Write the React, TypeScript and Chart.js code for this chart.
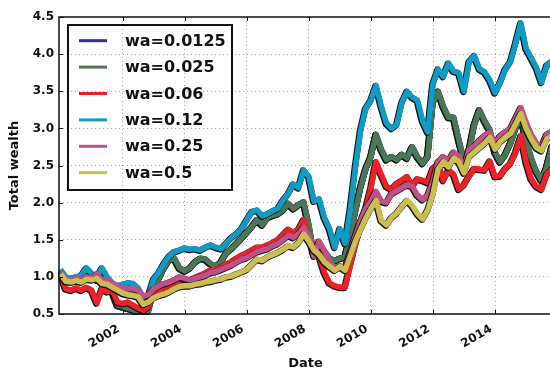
import React, { useEffect, useRef } from "react";
import { Chart, registerables } from "chart.js";

Chart.register(...registerables);

// Sample dates (every two months), "YYYY-MM"
const dates = [
  "2000-01", "2000-03", "2000-05", "2000-07", "2000-09", "2000-11",
  "2001-01", "2001-03", "2001-05", "2001-07", "2001-09", "2001-11",
  "2002-01", "2002-03", "2002-05", "2002-07", "2002-09", "2002-11",
  "2003-01", "2003-03", "2003-05", "2003-07", "2003-09", "2003-11",
  "2004-01", "2004-03", "2004-05", "2004-07", "2004-09", "2004-11",
  "2005-01", "2005-03", "2005-05", "2005-07", "2005-09", "2005-11",
  "2006-01", "2006-03", "2006-05", "2006-07", "2006-09", "2006-11",
  "2007-01", "2007-03", "2007-05", "2007-07", "2007-09", "2007-11",
  "2008-01", "2008-03", "2008-05", "2008-07", "2008-09", "2008-11",
  "2009-01", "2009-03", "2009-05", "2009-07", "2009-09", "2009-11",
  "2010-01", "2010-03", "2010-05", "2010-07", "2010-09", "2010-11",
  "2011-01", "2011-03", "2011-05", "2011-07", "2011-09", "2011-11",
  "2012-01", "2012-03", "2012-05", "2012-07", "2012-09", "2012-11",
  "2013-01", "2013-03", "2013-05", "2013-07", "2013-09", "2013-11",
  "2014-01", "2014-03", "2014-05", "2014-07", "2014-09", "2014-11",
  "2015-01", "2015-03", "2015-05", "2015-07", "2015-09", "2015-11",
  "2016-01",
];

const wa0125 = [
  1.08, 0.97, 0.95, 0.97, 0.98, 1.06,
  1.00, 0.96, 1.06, 0.96, 0.80, 0.62,
  0.60, 0.58, 0.56, 0.52, 0.46, 0.55,
  0.82, 0.98, 1.12, 1.23, 1.25, 1.12,
  1.08, 1.12, 1.20, 1.25, 1.24, 1.18,
  1.14, 1.20, 1.32, 1.38, 1.45, 1.52,
  1.60, 1.68, 1.77, 1.70, 1.80, 1.83,
  1.85, 1.90, 1.99, 1.92, 1.97, 2.01,
  1.70, 1.30, 1.40, 1.35, 1.25, 1.22,
  1.25, 1.27, 1.54, 1.88, 2.20, 2.45,
  2.62, 2.92, 2.72, 2.58, 2.62, 2.58,
  2.65, 2.60, 2.75, 2.62, 2.53, 2.62,
  3.35, 3.50, 3.30, 3.15, 3.15, 2.85,
  2.57, 2.70, 3.05, 3.25, 3.10, 2.98,
  2.68, 2.55, 2.65, 2.80, 3.00, 3.18,
  2.85, 2.60, 2.42, 2.30, 2.48, 2.75,
  2.85,
];

const wa025 = [
  1.08, 0.97, 0.95, 0.97, 0.98, 1.06,
  1.00, 0.96, 1.06, 0.96, 0.80, 0.62,
  0.60, 0.58, 0.56, 0.52, 0.46, 0.55,
  0.82, 0.98, 1.12, 1.23, 1.25, 1.12,
  1.08, 1.12, 1.20, 1.25, 1.24, 1.18,
  1.14, 1.20, 1.32, 1.38, 1.45, 1.52,
  1.60, 1.68, 1.77, 1.70, 1.80, 1.83,
  1.85, 1.90, 1.99, 1.92, 1.97, 2.01,
  1.70, 1.30, 1.40, 1.35, 1.25, 1.22,
  1.25, 1.27, 1.54, 1.88, 2.20, 2.45,
  2.62, 2.92, 2.72, 2.58, 2.62, 2.58,
  2.65, 2.60, 2.75, 2.62, 2.53, 2.62,
  3.35, 3.50, 3.30, 3.15, 3.15, 2.85,
  2.57, 2.70, 3.05, 3.25, 3.10, 2.98,
  2.68, 2.55, 2.65, 2.80, 3.00, 3.18,
  2.85, 2.60, 2.42, 2.30, 2.48, 2.75,
  2.85,
];

const wa06 = [
  1.02, 0.84, 0.82, 0.85, 0.82, 0.86,
  0.82, 0.65, 0.84, 0.80, 0.82, 0.66,
  0.64, 0.66, 0.62, 0.58, 0.55, 0.60,
  0.78, 0.80, 0.82, 0.86, 0.90, 0.96,
  0.97, 0.96, 0.99, 1.02, 1.05, 1.09,
  1.10, 1.13, 1.17, 1.20, 1.25, 1.29,
  1.32, 1.36, 1.40, 1.40, 1.43, 1.46,
  1.50, 1.57, 1.64, 1.60, 1.64, 1.77,
  1.50, 1.44, 1.28, 1.06, 0.92, 0.88,
  0.86, 0.86, 1.15, 1.43, 1.67, 1.92,
  2.20, 2.55, 2.38, 2.22, 2.18, 2.26,
  2.30, 2.35, 2.22, 2.32, 2.30, 2.27,
  2.46, 2.52, 2.30, 2.44, 2.38, 2.18,
  2.24, 2.36, 2.46, 2.45, 2.44, 2.56,
  2.35, 2.36, 2.46, 2.53, 2.68, 2.90,
  2.55, 2.32, 2.22, 2.18, 2.38, 2.45,
  2.50,
];

const wa12 = [
  1.10, 1.00, 0.98, 1.00, 1.02, 1.12,
  1.05, 1.00, 1.12, 1.00, 0.92, 0.88,
  0.90, 0.92, 0.91, 0.85, 0.72, 0.75,
  0.97, 1.06, 1.18, 1.28, 1.34, 1.36,
  1.39, 1.37, 1.38, 1.36, 1.40, 1.43,
  1.40, 1.38, 1.45, 1.53, 1.58, 1.65,
  1.77, 1.88, 1.90, 1.82, 1.85, 1.89,
  1.92, 2.03, 2.12, 2.25, 2.20, 2.44,
  2.35, 2.02, 2.05, 1.80, 1.65, 1.40,
  1.65, 1.45, 1.90, 2.47, 2.97, 3.27,
  3.38, 3.58, 3.30, 3.07, 3.00, 3.05,
  3.35, 3.50, 3.42, 3.38, 3.10, 2.95,
  3.60, 3.80, 3.70, 3.88, 3.77, 3.75,
  3.50, 3.90, 3.98, 3.80, 3.76, 3.65,
  3.48, 3.62, 3.80, 3.90, 4.15, 4.42,
  4.08, 3.95, 3.82, 3.62, 3.85, 3.90,
  3.95,
];

const wa25 = [
  1.06, 0.97, 0.96, 0.98, 0.97, 1.00,
  0.98, 1.04, 0.96, 0.96, 0.92, 0.87,
  0.85, 0.84, 0.84, 0.82, 0.74, 0.76,
  0.84, 0.88, 0.91, 0.93, 0.96, 1.00,
  0.98, 0.96, 0.98, 1.00, 1.02, 1.06,
  1.07, 1.10, 1.13, 1.16, 1.20, 1.24,
  1.26, 1.30, 1.34, 1.36, 1.38, 1.42,
  1.45, 1.50, 1.56, 1.53, 1.58, 1.67,
  1.55, 1.28, 1.48, 1.35, 1.20, 1.12,
  1.15, 1.12, 1.33, 1.55, 1.75, 1.92,
  2.02, 2.15, 2.02, 2.00, 2.12, 2.16,
  2.20, 2.24, 2.22, 2.10, 2.04, 2.10,
  2.28, 2.55, 2.62, 2.56, 2.68, 2.62,
  2.46, 2.72, 2.76, 2.84, 2.90, 2.95,
  2.78, 2.90, 2.95, 3.00, 3.14, 3.28,
  3.08, 2.92, 2.80, 2.75, 2.92, 2.96,
  3.00,
];

const wa5 = [
  1.04, 0.94, 0.93, 0.95, 0.93, 0.97,
  0.96, 0.98, 0.91, 0.90, 0.86, 0.82,
  0.78, 0.76, 0.75, 0.73, 0.63, 0.66,
  0.72, 0.75, 0.77, 0.80, 0.84, 0.87,
  0.88, 0.88, 0.90, 0.91, 0.93, 0.94,
  0.96, 0.97, 1.00, 1.01, 1.04, 1.07,
  1.10, 1.17, 1.24, 1.22, 1.27, 1.30,
  1.33, 1.37, 1.42, 1.40, 1.46, 1.58,
  1.48, 1.36, 1.30, 1.20, 1.14, 1.09,
  1.14, 1.09, 1.28, 1.48, 1.64, 1.79,
  1.92, 2.03, 1.76, 1.70, 1.80, 1.86,
  1.95, 2.03, 1.96, 1.85, 1.78, 1.90,
  2.12, 2.45, 2.55, 2.48, 2.60, 2.55,
  2.40, 2.62, 2.68, 2.74, 2.80, 2.88,
  2.72, 2.82, 2.88, 2.93, 3.06, 3.20,
  3.00, 2.86, 2.74, 2.70, 2.86, 2.90,
  2.92,
];

const seriesLabels = ["wa=0.0125", "wa=0.025", "wa=0.06", "wa=0.12", "wa=0.25", "wa=0.5"];
const seriesValues = [wa0125, wa025, wa06, wa12, wa25, wa5];
const seriesColors = ["#33338f", "#4a7758", "#ee2028", "#0f9bc6", "#c05088", "#cbbd4f"];

const yTicks = [0.5, 1.0, 1.5, 2.0, 2.5, 3.0, 3.5, 4.0, 4.5];
const xTickYears = [2002, 2004, 2006, 2008, 2010, 2012, 2014];
const xTitle = "Date";
const yTitle = "Total wealth";

const X_MIN = 1999.947;
const X_MAX = 2015.835;
const FONT = "'DejaVu Sans', sans-serif";

function toYear(s: string): number {
  const [y, m] = s.split("-").map(Number);
  return y + (m - 1) / 12;
}

// shifts the black outline slightly, like a drop shadow
const shadowPlugin = {
  id: "outlineShift",
  beforeDatasetDraw(chart: any, args: any) {
    const ds = chart.data.datasets[args.index];
    if (String(ds.label).startsWith("_outline")) {
      chart.ctx.save();
      chart.ctx.translate(-0.7, 0.7);
    }
  },
  afterDatasetDraw(chart: any, args: any) {
    const ds = chart.data.datasets[args.index];
    if (String(ds.label).startsWith("_outline")) {
      chart.ctx.restore();
    }
  },
};

const framePlugin = {
  id: "frameAndLegend",
  afterDraw(chart: any) {
    const { ctx, chartArea, scales } = chart;
    const { left, top, right, bottom } = chartArea;
    ctx.save();
    // spines
    ctx.strokeStyle = "#111";
    ctx.lineWidth = 1.5;
    ctx.beginPath();
    ctx.moveTo(right, top);
    ctx.lineTo(left, top);
    ctx.lineTo(left, bottom);
    ctx.lineTo(right, bottom);
    ctx.stroke();
    // inward tick marks
    ctx.lineWidth = 1;
    ctx.beginPath();
    for (const v of yTicks) {
      const py = Math.round(scales.y.getPixelForValue(v)) + 0.5;
      ctx.moveTo(left, py);
      ctx.lineTo(left + 4, py);
    }
    for (const v of xTickYears) {
      const px = Math.round(scales.x.getPixelForValue(v)) + 0.5;
      ctx.moveTo(px, bottom);
      ctx.lineTo(px, bottom - 4);
      ctx.moveTo(px, top);
      ctx.lineTo(px, top + 4);
    }
    ctx.stroke();

    // legend
    const bx = left + 9;
    const by = top + 8;
    const bw = 164;
    const bh = 165;
    ctx.lineWidth = 2;
    ctx.strokeStyle = "#111";
    ctx.strokeRect(bx, by, bw, bh);
    ctx.font = `bold 16px ${FONT}`;
    ctx.textBaseline = "middle";
    ctx.textAlign = "left";
    seriesLabels.forEach((lab, i) => {
      const ly = top + 23.7 + i * 26.4;
      ctx.strokeStyle = seriesColors[i];
      ctx.lineWidth = 3;
      ctx.beginPath();
      ctx.moveTo(left + 20, ly);
      ctx.lineTo(left + 48, ly);
      ctx.stroke();
      ctx.fillStyle = "#111";
      ctx.fillText(lab, left + 66, ly + 1);
    });
    ctx.restore();
  },
};

export default function App() {
  const ref = useRef<HTMLCanvasElement | null>(null);

  useEffect(() => {
    if (!ref.current) return;
    const xs = dates.map(toYear);
    const datasets: any[] = [];
    seriesValues.forEach((vals, i) => {
      const pts = xs.map((x, j) => ({ x, y: vals[j] }));
      datasets.push({
        label: "_outline" + i,
        data: pts,
        borderColor: "#161616",
        borderWidth: 6.5,
        pointRadius: 0,
        borderJoinStyle: "round",
        order: 100 - 2 * i,
      });
      datasets.push({
        label: seriesLabels[i],
        data: pts,
        borderColor: seriesColors[i],
        borderWidth: 5.5,
        pointRadius: 0,
        borderJoinStyle: "round",
        order: 99 - 2 * i,
      });
    });

    const tickFont = { family: FONT, size: 12, weight: "bold" as const };
    const titleFont = { family: FONT, size: 13, weight: "bold" as const };

    const chart = new Chart(ref.current, {
      type: "line",
      data: { datasets },
      options: {
        animation: false,
        responsive: false,
        devicePixelRatio: 1,
        layout: { padding: { top: 17, left: 0, right: 0, bottom: 0 } },
        plugins: { legend: { display: false }, tooltip: { enabled: false } },
        elements: { line: { tension: 0 }, point: { radius: 0 } },
        scales: {
          x: {
            type: "linear",
            min: X_MIN,
            max: X_MAX,
            afterBuildTicks: (s: any) => {
              s.ticks = xTickYears.map((v) => ({ value: v }));
            },
            afterFit: (s: any) => {
              s.height = 61;
            },
            ticks: {
              minRotation: 30,
              maxRotation: 30,
              autoSkip: false,
              padding: 8,
              labelOffset: -4,
              color: "#111",
              font: tickFont,
              callback: (v: any) => String(v),
            },
            grid: { color: "#aaaaaa", lineWidth: 1, drawTicks: false },
            border: { display: false, dash: [1, 3] },
            title: {
              display: true,
              text: xTitle,
              color: "#111",
              font: titleFont,
              padding: { top: 0, bottom: 4 },
            },
          },
          y: {
            type: "linear",
            min: 0.5,
            max: 4.5,
            afterBuildTicks: (s: any) => {
              s.ticks = yTicks.map((v) => ({ value: v }));
            },
            afterFit: (s: any) => {
              s.width = 59;
            },
            ticks: {
              padding: 5,
              color: "#111",
              font: tickFont,
              callback: (v: any) => Number(v).toFixed(1),
            },
            grid: { color: "#aaaaaa", lineWidth: 1, drawTicks: false },
            border: { display: false, dash: [1, 3] },
            title: {
              display: true,
              text: yTitle,
              color: "#111",
              font: titleFont,
              padding: { top: 7, bottom: 0 },
            },
          },
        },
      },
      plugins: [shadowPlugin, framePlugin],
    });
    return () => chart.destroy();
  }, []);

  return (
    <div
      style={{
        position: "fixed",
        left: 0,
        top: 0,
        width: 550,
        height: 375,
        overflow: "hidden",
        background: "#fff",
      }}
    >
      <canvas ref={ref} width={552} height={375} style={{ display: "block" }} />
    </div>
  );
}
